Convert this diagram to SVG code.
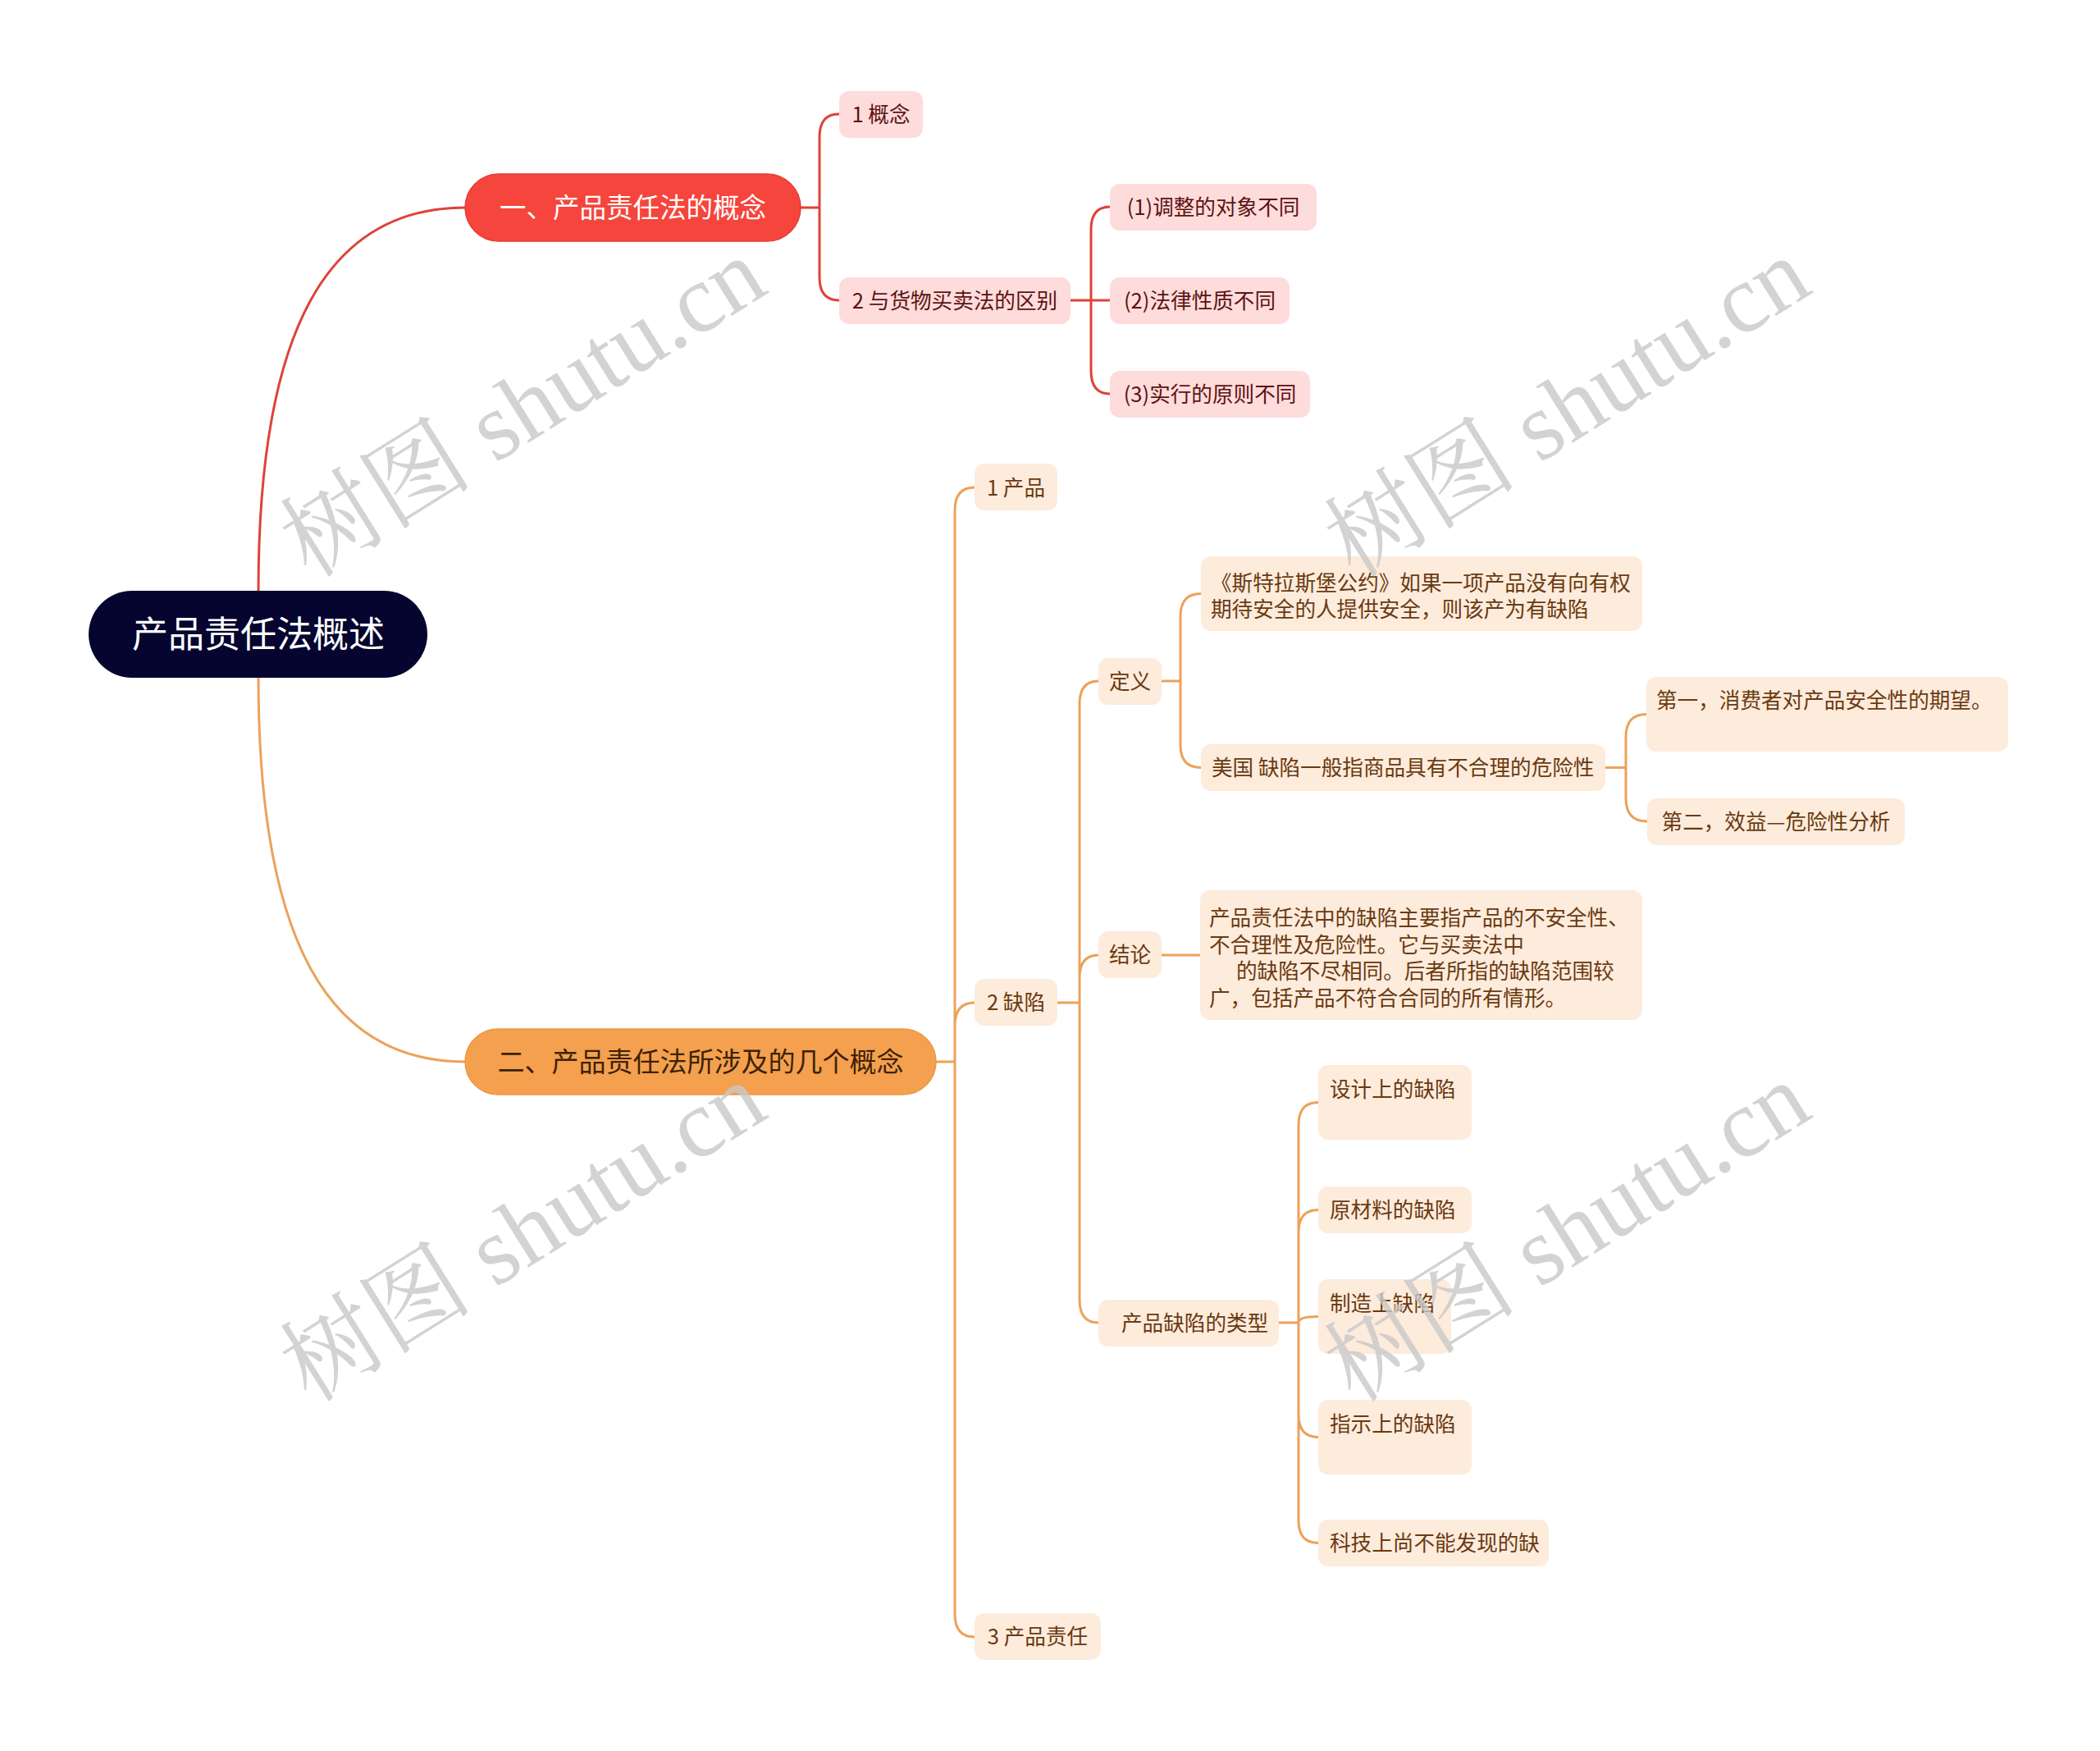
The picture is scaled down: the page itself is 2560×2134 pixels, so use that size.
<svg xmlns="http://www.w3.org/2000/svg" width="2560" height="2134" viewBox="0 0 2560 2134">
<style>
.t{font-family:"Noto Sans CJK SC","Noto Sans",sans-serif;font-size:25.6px}
.red{fill:#fddcdb}
.redt{fill:#5e1212}
.or{fill:#fdebdc}
.ort{fill:#6a3a10}
.cr{fill:none;stroke:#dd433a;stroke-width:3;stroke-linecap:round}
.co{fill:none;stroke:#eba25a;stroke-width:3;stroke-linecap:round}
.wm{font-family:"Liberation Serif","Noto Serif CJK SC","Noto Sans CJK SC",serif;font-size:118px;fill:#c9c9c9;opacity:0.8}
</style>
<rect width="2560" height="2134" fill="#ffffff"/>
<g id="connectors">
<path class="cr" d="M315,720 C315,400 400,253 567,253"/>
<path class="cr" d="M976,253 H999 M999,253 V167 Q999,139 1023,139 M999,253 V338 Q999,366 1023,366"/>
<path class="cr" d="M1305,366 H1353 M1330,366 V280 Q1330,252 1353,252 M1330,366 V452 Q1330,480 1353,480"/>
<path class="co" d="M315,826 C315,1146 400,1294 567,1294"/>
<path class="co" d="M1141,1294 H1164 M1164,1294 V622 Q1164,594 1188,594 M1164,1294 V1250 Q1164,1222 1188,1222 M1164,1294 V1967 Q1164,1995 1188,1995"/>
<path class="co" d="M1289,1222 H1316 M1316,1222 V858 Q1316,830 1339,830 M1316,1222 V1192 Q1316,1164 1339,1164 M1316,1222 V1584 Q1316,1612 1339,1612"/>
<path class="co" d="M1416,830 H1439 M1439,830 V751 Q1439,723.5 1464,723.5 M1439,830 V908 Q1439,935.5 1464,935.5"/>
<path class="co" d="M1957,935.5 H1982 M1982,935.5 V898 Q1982,870.5 2007,870.5 M1982,935.5 V973 Q1982,1001 2008,1001"/>
<path class="co" d="M1416,1164 H1463"/>
<path class="co" d="M1559,1612 H1583 M1583,1612 V1371 Q1583,1343.5 1607,1343.5 M1583,1612 V1502 Q1583,1474.5 1607,1474.5 M1583,1612 Q1583,1604.5 1607,1604.5 M1583,1612 V1724 Q1583,1751.5 1607,1751.5 M1583,1612 V1853 Q1583,1880.5 1607,1880.5"/>
</g>
<g id="root">
<rect x="108" y="720" width="413" height="106" rx="53" fill="#050530"/>
<text class="t" x="315" y="789" text-anchor="middle" style="font-size:44px" fill="#ffffff">产品责任法概述</text>
</g>
<g id="b1">
<rect x="567" y="212" width="409" height="82" rx="41" fill="#f5453c" stroke="#e33f36" stroke-width="1.5"/>
<text class="t" x="771.5" y="265" text-anchor="middle" style="font-size:32.5px" fill="#ffffff">一、产品责任法的概念</text>
</g>
<g id="b1c1">
<rect class="red" x="1023" y="111" width="102" height="57" rx="12"/>
<text class="t redt" x="1074" y="149" text-anchor="middle">1 概念</text>
</g>
<g id="b1c2">
<rect class="red" x="1023" y="338" width="282" height="57" rx="12"/>
<text class="t redt" x="1164" y="376" text-anchor="middle">2 与货物买卖法的区别</text>
</g>
<g id="b1c2a">
<rect class="red" x="1353" y="224" width="252" height="57" rx="12"/>
<text class="t redt" x="1479" y="262" text-anchor="middle">(1)调整的对象不同</text>
</g>
<g id="b1c2b">
<rect class="red" x="1353" y="338" width="219" height="57" rx="12"/>
<text class="t redt" x="1462.5" y="376" text-anchor="middle">(2)法律性质不同</text>
</g>
<g id="b1c2c">
<rect class="red" x="1353" y="452" width="244" height="57" rx="12"/>
<text class="t redt" x="1475" y="490" text-anchor="middle">(3)实行的原则不同</text>
</g>
<g id="b2">
<rect x="567" y="1254" width="574" height="80" rx="40" fill="#f4a04e" stroke="#eb9848" stroke-width="1.5"/>
<text class="t" x="854" y="1306" text-anchor="middle" style="font-size:33px" fill="#3d2208">二、产品责任法所涉及的几个概念</text>
</g>
<g id="b2c1">
<rect class="or" x="1188" y="565" width="101" height="57" rx="12"/>
<text class="t ort" x="1238.5" y="603.5" text-anchor="middle">1 产品</text>
</g>
<g id="b2c2">
<rect class="or" x="1188" y="1193" width="101" height="57" rx="12"/>
<text class="t ort" x="1238.5" y="1231" text-anchor="middle">2 缺陷</text>
</g>
<g id="b2c3">
<rect class="or" x="1188" y="1966" width="154" height="57" rx="12"/>
<text class="t ort" x="1265" y="2004" text-anchor="middle">3 产品责任</text>
</g>
<g id="dingyi">
<rect class="or" x="1339" y="802" width="77" height="57" rx="12"/>
<text class="t ort" x="1377.5" y="840" text-anchor="middle">定义</text>
</g>
<g id="sitelasi">
<rect class="or" x="1464" y="678" width="538" height="91" rx="12"/>
<text class="t ort" x="1476" y="720">《斯特拉斯堡公约》如果一项产品没有向有权</text>
<text class="t ort" x="1476" y="752">期待安全的人提供安全，则该产为有缺陷</text>
</g>
<g id="meiguo">
<rect class="or" x="1464" y="907" width="493" height="57" rx="12"/>
<text class="t ort" x="1477" y="945">美国 缺陷一般指商品具有不合理的危险性</text>
</g>
<g id="diyi">
<rect class="or" x="2007" y="825" width="441" height="91" rx="12"/>
<text class="t ort" x="2019" y="863">第一，消费者对产品安全性的期望。</text>
</g>
<g id="dier">
<rect class="or" x="2008" y="973" width="314" height="57" rx="12"/>
<text class="t ort" x="2165" y="1011" text-anchor="middle">第二，效益—危险性分析</text>
</g>
<g id="jielun">
<rect class="or" x="1339" y="1135" width="77" height="57" rx="12"/>
<text class="t ort" x="1377.5" y="1173" text-anchor="middle">结论</text>
</g>
<g id="jielun_text">
<rect class="or" x="1463" y="1085" width="539" height="158" rx="12"/>
<text class="t ort" x="1474" y="1128">产品责任法中的缺陷主要指产品的不安全性、</text>
<text class="t ort" x="1474" y="1160.5">不合理性及危险性。它与买卖法中</text>
<text class="t ort" x="1507" y="1193">的缺陷不尽相同。后者所指的缺陷范围较</text>
<text class="t ort" x="1474" y="1225.5">广，包括产品不符合合同的所有情形。</text>
</g>
<g id="leixing">
<rect class="or" x="1339" y="1584" width="220" height="57" rx="12"/>
<text class="t ort" x="1367" y="1622">产品缺陷的类型</text>
</g>
<g id="sheji">
<rect class="or" x="1607" y="1298" width="187" height="91" rx="12"/>
<text class="t ort" x="1621" y="1337">设计上的缺陷</text>
</g>
<g id="yuancailiao">
<rect class="or" x="1607" y="1446" width="187" height="57" rx="12"/>
<text class="t ort" x="1621" y="1484">原材料的缺陷</text>
</g>
<g id="zhizao">
<rect class="or" x="1607" y="1559" width="162" height="91" rx="12"/>
<text class="t ort" x="1621" y="1598">制造上缺陷</text>
</g>
<g id="zhishi">
<rect class="or" x="1607" y="1706" width="187" height="91" rx="12"/>
<text class="t ort" x="1621" y="1745">指示上的缺陷</text>
</g>
<g id="keji">
<rect class="or" x="1607" y="1852" width="281" height="57" rx="12"/>
<text class="t ort" x="1621" y="1890">科技上尚不能发现的缺</text>
</g>
<g id="watermarks">
<text class="wm" transform="translate(378,706) rotate(-32)">树图 shutu.cn</text>
<text class="wm" transform="translate(1651,706) rotate(-32)">树图 shutu.cn</text>
<text class="wm" transform="translate(378,1711) rotate(-32)">树图 shutu.cn</text>
<text class="wm" transform="translate(1651,1711) rotate(-32)">树图 shutu.cn</text>
</g>
</svg>
